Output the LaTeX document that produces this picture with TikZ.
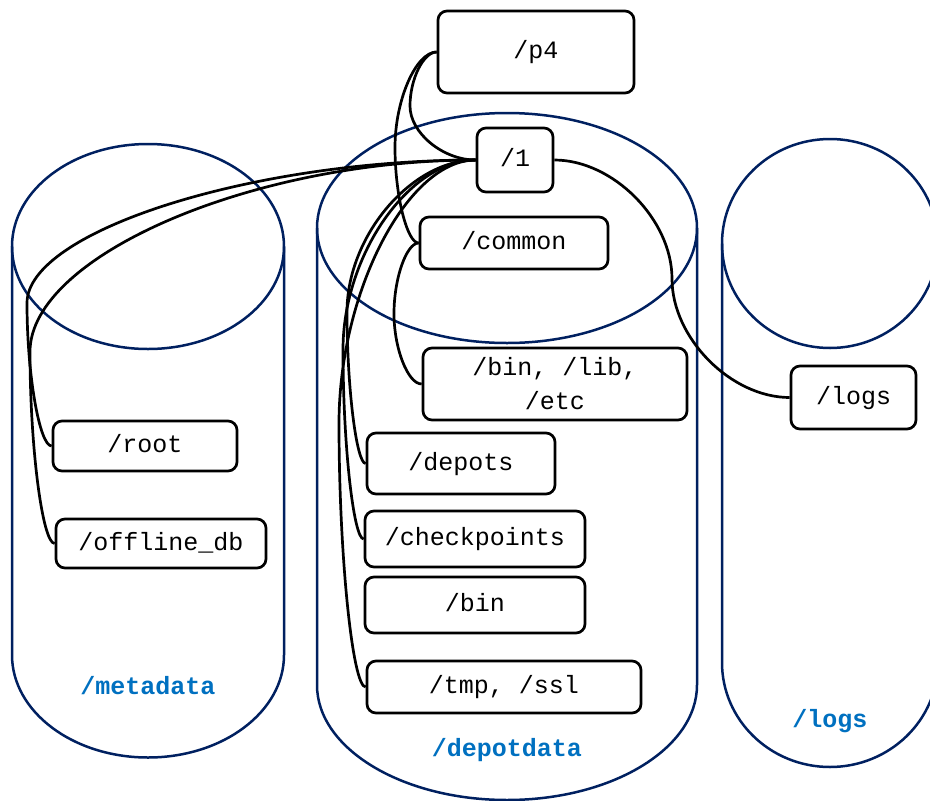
\documentclass[tikz,border=0pt]{standalone}
\usepackage{fontspec}
\setmonofont{Liberation Mono}
\definecolor{cyl}{HTML}{002060}
\definecolor{lbl}{HTML}{0070C0}
\begin{document}
\begin{tikzpicture}[x=1pt,y=-1pt,
  cylline/.style={draw=cyl, line width=2.5pt},
  boxbase/.style={draw=black, line width=2.7pt, rounded corners=9pt, fill=white,
    font=\ttfamily\fontsize{25}{34}\selectfont, inner sep=0pt, align=center},
  box/.style={boxbase, text height=17pt, text depth=4pt},
  conn/.style={draw=black, line width=2.7pt},
  lab/.style={text=lbl, font=\ttfamily\bfseries\fontsize{25}{30}\selectfont, anchor=base, inner sep=0pt}]
\clip (0,0) rectangle (930,801);
% cylinders
\draw[cylline] (148,246.5) ellipse [x radius=136pt, y radius=102.5pt];
\draw[cylline] (12,246.5) -- (12,655) arc[start angle=180, end angle=360, x radius=136pt, y radius=102.5pt] -- (284,246.5);
\draw[cylline] (507,228) ellipse [x radius=190pt, y radius=115pt];
\draw[cylline] (317,228) -- (317,685) arc[start angle=180, end angle=360, x radius=190pt, y radius=115pt] -- (697,228);
\draw[cylline] (830,243.5) ellipse [x radius=108pt, y radius=104.5pt];
\draw[cylline] (722,243.5) -- (722,662.5) arc[start angle=180, end angle=360, x radius=108pt, y radius=104.5pt] -- (938,243.5);
\node[lab] (metalab) at (148,694) {/metadata};
\node[lab] (depotlab) at (507,756) {/depotdata};
\node[lab] (logslab) at (830,727) {/logs};
% nodes
\node[box, minimum width=196pt, minimum height=82pt] (p4) at (536,52) {/p4};
\node[box, minimum width=76pt, minimum height=64pt] (one) at (515,160) {/1};
\node[box, minimum width=188pt, minimum height=52pt] (common) at (514,243) {/common};
\node[boxbase, minimum width=264pt, minimum height=72pt] (binlib) at (555,384) {/bin, /lib,\\/etc};
\node[box, minimum width=188pt, minimum height=61pt] (depots) at (461,463.5) {/depots};
\node[box, minimum width=220pt, minimum height=56pt] (checkpoints) at (475,539) {/checkpoints};
\node[box, minimum width=220pt, minimum height=56pt] (bin) at (475,605) {/bin};
\node[box, minimum width=274pt, minimum height=52pt] (tmp) at (504,687) {/tmp, /ssl};
\node[box, minimum width=184pt, minimum height=50pt] (root) at (145,446) {/root};
\node[box, minimum width=210pt, minimum height=49pt] (offline) at (161,543.5) {/offline\_db};
\node[box, minimum width=125pt, minimum height=63pt] (logs) at (853.5,397.5) {/logs};
% connectors
\draw[conn] (p4.west) .. controls (423.5,52) and (410,79) .. (410,106) .. controls (410,133) and (443,160) .. (one.west);
\draw[conn] (p4.west) .. controls (416,52) and (395,99.75) .. (395,147.5) .. controls (395,195.25) and (407,243) .. (common.west);
\draw[conn] (common.west) .. controls (406.5,243) and (394,278.25) .. (394,313.5) .. controls (394,348.75) and (408,384) .. (binlib.west);
\draw[conn] (one.west) .. controls (411.5,160) and (347,235.9) .. (347,311.75) .. controls (347,387.6) and (356.5,463.5) .. (depots.west);
\draw[conn] (one.west) .. controls (409.5,160) and (343,254.75) .. (343,349.5) .. controls (343,444.25) and (353.5,539) .. (checkpoints.west);
\draw[conn] (one.west) .. controls (407.5,160) and (339,291.75) .. (339,423.5) .. controls (339,555.25) and (352.5,687) .. (tmp.west);
\draw[conn] (one.west) .. controls (251.5,160) and (27,231.5) .. (27,303) .. controls (27,374.5) and (39.5,446) .. (root.west);
\draw[conn] (one.west) .. controls (253,160) and (30,255.9) .. (30,351.75) .. controls (30,447.6) and (42.5,543.5) .. (offline.west);
\draw[conn] (one.east) .. controls (613,160) and (672,219.4) .. (672,278.75) .. controls (672,338.1) and (731,397.5) .. (logs.west);
\end{tikzpicture}
\end{document}
